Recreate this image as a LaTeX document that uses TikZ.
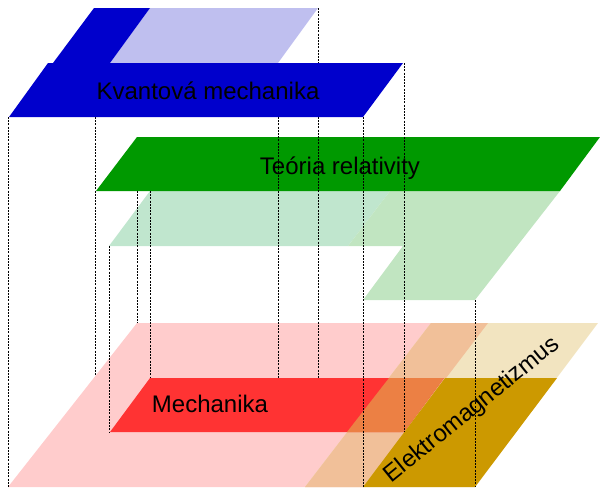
\documentclass[tikz,border=0pt]{standalone}
\usepackage{fontspec}
\setmainfont{Liberation Sans}

\definecolor{blueD}{RGB}{0,0,204}
\definecolor{blueL}{RGB}{191,191,239}
\definecolor{greenD}{RGB}{0,153,0}
\definecolor{greenL1}{RGB}{192,230,206}
\definecolor{greenL2}{RGB}{193,229,193}
\definecolor{pinkL}{RGB}{255,204,204}
\definecolor{redM}{RGB}{255,51,51}
\definecolor{tanL}{RGB}{242,228,192}
\definecolor{tanD}{RGB}{204,153,0}
\definecolor{orangeL}{RGB}{241,192,153}
\definecolor{orangeD}{RGB}{236,128,68}

\begin{document}
\begin{tikzpicture}[x=0.75pt, y=-0.75pt,
        vline/.style={dash pattern=on 1.5pt off 0.9pt, line width=0.65pt, black},
        lbl/.style={font=\fontsize{18}{22}\selectfont, anchor=base, inner sep=0pt}]
    \useasboundingbox (0,0) rectangle (600,487);

    % 底层：力学与电磁学
    \fill[pinkL] (137,323) -- (488,323) -- (363,487) -- (8,487) -- cycle;
    \fill[tanL] (431,323) -- (598,323) -- (475,487) -- (305,487) -- cycle;
    \fill[orangeL] (431,323) -- (488,323) -- (363,487) -- (305,487) -- cycle;
    \fill[redM] (150,378) -- (444,378) -- (404,432) -- (110,432) -- cycle;
    \fill[orangeD] (389,378) -- (444,378) -- (404,432) -- (347,432) -- cycle;
    \fill[tanD] (445,378) -- (557,378) -- (475,487) -- (363,487) -- cycle;

    % 中层：相对论
    \fill[greenL1] (150,191) -- (390,191) -- (348,246) -- (109,246) -- cycle;
    \fill[greenL2] (390,191) -- (560,191) -- (475,300) -- (363,300) -- (403,246) -- (348,246) -- cycle;
    \fill[greenD] (137,137) -- (600,137) -- (560,191) -- (96,191) -- cycle;

    % 顶层：量子力学
    \fill[blueL] (150,8) -- (318,8) -- (278,63) -- (110,63) -- cycle;
    \fill[blueD] (94,8) -- (150,8) -- (110,63) -- (53,63) -- cycle;

    % 竖直虚线
    \foreach \x/\ya/\yb in {8.5/117/487, 95/117/376, 109/246/432, 137/191/323,
            150/191/378, 278/117/378, 318/8/378, 363/117/487, 404/63/432, 475/300/487}
        \draw[vline] (\x,\ya) -- (\x,\yb);

    \fill[blueD] (48,63) -- (403,63) -- (363,117) -- (9,117) -- cycle;

    % 标签
    \node[lbl] (kvant) at (208,99) {Kvantová mechanika};
    \node[lbl] (relat) at (340,174) {Teória relativity};
    \node[lbl] (mech) at (210,412) {Mechanika};
    \node[lbl, rotate=39] (elmag) at (476,415) {Elektromagnetizmus};
\end{tikzpicture}
\end{document}
